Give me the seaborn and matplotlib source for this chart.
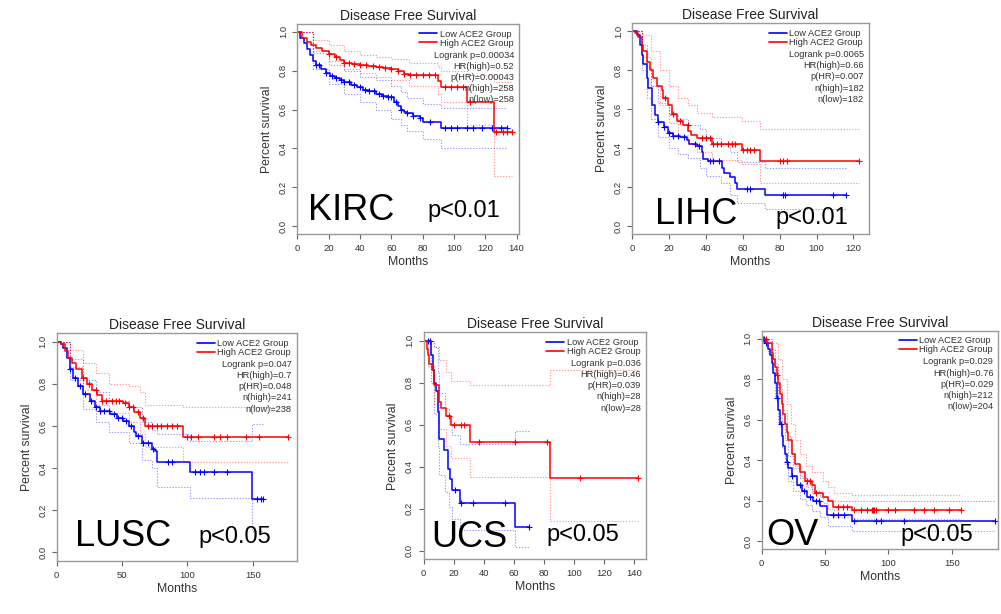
import numpy as np
import pandas as pd
import matplotlib
matplotlib.use("Agg")
import matplotlib.pyplot as plt
from matplotlib.lines import Line2D
import seaborn as sns

# ---------------- data ----------------
CANCERS = ["KIRC", "LIHC", "LUSC", "UCS", "OV"]
PLABELS = ["p<0.01", "p<0.01", "p<0.05", "p<0.05", "p<0.05"]
XTICKS = [[0, 20, 40, 60, 80, 100, 120, 140], [0, 20, 40, 60, 80, 100, 120],
          [0, 50, 100, 150], [0, 20, 40, 60, 80, 100, 120, 140], [0, 50, 100, 150]]
YTICKS = [0.0, 0.2, 0.4, 0.6, 0.8, 1.0]
STATS = [
    ["Logrank p=0.00034", "HR(high)=0.52", "p(HR)=0.00043", "n(high)=258", "n(low)=258"],
    ["Logrank p=0.0065", "HR(high)=0.66", "p(HR)=0.007", "n(high)=182", "n(low)=182"],
    ["Logrank p=0.047", "HR(high)=0.7", "p(HR)=0.048", "n(high)=241", "n(low)=238"],
    ["Logrank p=0.036", "HR(high)=0.46", "p(HR)=0.039", "n(high)=28", "n(low)=28"],
    ["Logrank p=0.029", "HR(high)=0.76", "p(HR)=0.029", "n(high)=212", "n(low)=204"],
]
GROUPS = ["Low ACE2 Group", "High ACE2 Group"]

# KIRC
KIRC_LOW_T = [0, 2, 4, 6, 8, 10, 12, 15, 18, 21, 24, 27, 30, 34, 38, 42, 46, 50, 54, 58, 62, 64, 66, 68, 70, 74, 78, 80, 92, 134]
KIRC_LOW_S = [1.0, 0.97, 0.94, 0.91, 0.88, 0.85, 0.83, 0.81, 0.79, 0.775, 0.76, 0.75, 0.74, 0.725, 0.715, 0.70, 0.695, 0.68, 0.67, 0.665, 0.64, 0.62, 0.60, 0.59, 0.58, 0.565, 0.555, 0.537, 0.507, 0.507]
KIRC_LOW_CENS = [12, 14, 18, 22, 25, 28, 30, 33, 36, 40, 43, 46, 49, 52, 55, 58, 60, 63, 66, 70, 74, 78, 85, 94, 98, 102, 108, 112, 118, 124, 130, 134]
KIRC_LOW_CI_T = [0, 10, 20, 30, 40, 50, 60, 66, 70, 80, 92, 134]
KIRC_LOW_CI_UP = [1.0, 0.89, 0.83, 0.80, 0.77, 0.75, 0.72, 0.69, 0.66, 0.63, 0.61, 0.61]
KIRC_LOW_CI_LO = [1.0, 0.81, 0.73, 0.68, 0.64, 0.60, 0.55, 0.52, 0.49, 0.45, 0.40, 0.40]
KIRC_HIGH_T = [0, 3, 6, 9, 12, 16, 20, 24, 27, 30, 35, 40, 45, 50, 55, 60, 64, 68, 71, 90, 92, 108, 125.5, 137]
KIRC_HIGH_S = [1.0, 0.97, 0.95, 0.93, 0.915, 0.90, 0.885, 0.87, 0.855, 0.84, 0.835, 0.83, 0.825, 0.82, 0.815, 0.81, 0.80, 0.785, 0.777, 0.746, 0.717, 0.64, 0.485, 0.485]
KIRC_HIGH_CENS = [20, 25, 30, 33, 36, 40, 44, 48, 52, 56, 60, 64, 68, 72, 76, 80, 84, 88, 94, 98, 102, 106, 110, 127, 131, 134, 137]
KIRC_HIGH_CI_T = [0, 10, 20, 30, 40, 50, 60, 71, 90, 92, 108, 125.5, 137]
KIRC_HIGH_CI_UP = [1.0, 0.96, 0.93, 0.90, 0.88, 0.87, 0.86, 0.84, 0.82, 0.80, 0.78, 0.74, 0.74]
KIRC_HIGH_CI_LO = [1.0, 0.90, 0.85, 0.81, 0.79, 0.77, 0.75, 0.72, 0.68, 0.64, 0.52, 0.26, 0.26]

# LIHC
LIHC_LOW_T = [0, 2.4, 4.2, 5, 6, 7.8, 8.7, 10.5, 12.3, 14, 17, 19.5, 22, 26, 29.5, 31, 35, 37.6, 38.5, 41, 48.5, 50, 53, 55.7, 56.6, 72, 116]
LIHC_LOW_S = [1.0, 0.98, 0.93, 0.88, 0.83, 0.76, 0.71, 0.62, 0.57, 0.535, 0.51, 0.48, 0.465, 0.457, 0.44, 0.42, 0.41, 0.38, 0.345, 0.333, 0.30, 0.275, 0.25, 0.224, 0.19, 0.159, 0.159]
LIHC_LOW_CENS = [14, 17, 20, 22, 25, 28, 34, 36, 42, 44, 47, 62, 64, 82, 83, 109, 116]
LIHC_LOW_CI_T = [0, 5, 8, 10, 14, 20, 25, 30, 37, 40, 48, 53, 57, 72, 116]
LIHC_LOW_CI_UP = [1.0, 0.93, 0.82, 0.72, 0.63, 0.57, 0.55, 0.52, 0.50, 0.45, 0.42, 0.38, 0.33, 0.30, 0.30]
LIHC_LOW_CI_LO = [1.0, 0.80, 0.66, 0.55, 0.46, 0.40, 0.37, 0.35, 0.30, 0.26, 0.22, 0.16, 0.12, 0.09, 0.09]
LIHC_HIGH_T = [0, 1.4, 3.3, 5, 6, 7.8, 9.6, 11.4, 13.2, 15.9, 16.8, 19.5, 21.4, 24, 27.7, 30.4, 32, 35, 43, 59.4, 69.3, 123]
LIHC_HIGH_S = [1.0, 0.99, 0.97, 0.93, 0.90, 0.84, 0.80, 0.76, 0.72, 0.70, 0.66, 0.62, 0.575, 0.54, 0.52, 0.49, 0.47, 0.45, 0.42, 0.39, 0.333, 0.333]
LIHC_HIGH_CENS = [18, 22, 26, 30, 38, 40, 42, 44, 46, 48, 52, 54, 56, 60, 62, 64, 66, 80, 82, 84, 123]
LIHC_HIGH_CI_T = [0, 5, 10, 15, 20, 25, 30, 35, 43, 59.4, 69.3, 123]
LIHC_HIGH_CI_UP = [1.0, 0.98, 0.90, 0.80, 0.72, 0.66, 0.62, 0.58, 0.56, 0.54, 0.50, 0.50]
LIHC_HIGH_CI_LO = [1.0, 0.87, 0.72, 0.62, 0.53, 0.47, 0.42, 0.38, 0.34, 0.32, 0.22, 0.22]

# LUSC
LUSC_LOW_T = [0, 3, 5, 7.7, 10, 12.8, 16.6, 20.4, 25.6, 29.4, 33, 41, 46, 51, 55, 58.8, 61, 65, 72.8, 75.4, 76.7, 102, 149.5, 158]
LUSC_LOW_S = [1.0, 0.99, 0.97, 0.925, 0.87, 0.83, 0.79, 0.75, 0.72, 0.69, 0.67, 0.655, 0.64, 0.625, 0.60, 0.57, 0.55, 0.52, 0.49, 0.48, 0.427, 0.38, 0.253, 0.253]
LUSC_LOW_CENS = [10, 14, 18, 22, 26, 30, 33, 36, 40, 44, 47, 50, 53, 57, 62, 66, 70, 74, 85, 88, 106, 110, 113, 120, 130, 153, 156, 158]
LUSC_LOW_CI_T = [0, 10, 20, 30, 40, 55, 65, 72.8, 76.7, 102, 149.5, 158]
LUSC_LOW_CI_UP = [1.0, 0.92, 0.82, 0.76, 0.72, 0.69, 0.62, 0.58, 0.56, 0.53, 0.61, 0.61]
LUSC_LOW_CI_LO = [1.0, 0.82, 0.68, 0.62, 0.57, 0.52, 0.44, 0.40, 0.31, 0.26, 0.10, 0.10]
LUSC_HIGH_T = [0, 3, 6.4, 9, 11.5, 15, 19, 23, 27, 30.7, 34.5, 51, 55, 58.8, 64, 67.7, 97, 177]
LUSC_HIGH_S = [1.0, 0.99, 0.957, 0.925, 0.90, 0.87, 0.83, 0.80, 0.77, 0.745, 0.72, 0.71, 0.69, 0.665, 0.64, 0.60, 0.546, 0.546]
LUSC_HIGH_CENS = [20, 25, 30, 35, 38, 42, 45, 48, 52, 55, 58, 62, 66, 70, 73, 77, 80, 84, 88, 92, 100, 103, 108, 120, 125, 130, 145, 155, 177]
LUSC_HIGH_CI_T = [0, 10, 20, 30, 40, 55, 64, 67.7, 97, 177]
LUSC_HIGH_CI_UP = [1.0, 0.96, 0.90, 0.85, 0.80, 0.79, 0.76, 0.70, 0.69, 0.69]
LUSC_HIGH_CI_LO = [1.0, 0.88, 0.77, 0.70, 0.66, 0.62, 0.56, 0.50, 0.43, 0.43]

# UCS
UCS_LOW_T = [0, 5, 6.1, 7.2, 8.3, 9.4, 10.5, 13.7, 16.3, 17.6, 19.2, 24, 60.6, 70]
UCS_LOW_S = [1.0, 0.93, 0.86, 0.80, 0.76, 0.66, 0.53, 0.48, 0.39, 0.34, 0.29, 0.23, 0.115, 0.115]
UCS_LOW_CENS = [3, 4, 21, 25, 33, 54, 70]
UCS_LOW_CI_T = [0, 5, 7, 9.4, 10.5, 14, 17, 19, 24, 60.6, 70]
UCS_LOW_CI_UP = [1.0, 1.0, 0.97, 0.85, 0.75, 0.68, 0.60, 0.55, 0.51, 0.57, 0.57]
UCS_LOW_CI_LO = [1.0, 0.80, 0.65, 0.50, 0.36, 0.28, 0.21, 0.15, 0.10, 0.02, 0.02]
UCS_HIGH_T = [0, 2.2, 3.3, 3.9, 5.7, 7.2, 10, 11.5, 14.8, 18, 31.2, 84, 143]
UCS_HIGH_S = [1.0, 0.96, 0.93, 0.89, 0.86, 0.79, 0.71, 0.68, 0.64, 0.60, 0.52, 0.347, 0.347]
UCS_HIGH_CENS = [17, 20, 25, 27, 37, 61, 82, 104, 143]
UCS_HIGH_CI_T = [0, 3, 7, 10, 14.8, 18, 31.2, 84, 143]
UCS_HIGH_CI_UP = [1.0, 1.0, 0.97, 0.91, 0.85, 0.81, 0.79, 0.86, 0.86]
UCS_HIGH_CI_LO = [1.0, 0.88, 0.70, 0.58, 0.50, 0.44, 0.35, 0.14, 0.14]

# OV
OV_LOW_T = [0, 2.6, 5.3, 6.5, 7.9, 9.2, 10.5, 11.8, 13.2, 14.5, 15.8, 17.1, 18.4, 19.7, 21, 23.7, 27.6, 31.6, 35.5, 40.8, 46, 51.3, 71, 184]
OV_LOW_S = [1.0, 0.98, 0.95, 0.92, 0.88, 0.83, 0.78, 0.71, 0.65, 0.58, 0.52, 0.47, 0.43, 0.39, 0.36, 0.32, 0.28, 0.25, 0.22, 0.20, 0.175, 0.13, 0.10, 0.10]
OV_LOW_CENS = [2, 3, 12, 15, 20, 24, 30, 33, 38, 43, 45, 56, 60, 65, 73, 90, 94, 112, 184]
OV_LOW_CI_T = [0, 5, 8, 10.5, 13, 16, 18.5, 21, 25, 30, 35, 40, 46, 52, 71, 184]
OV_LOW_CI_UP = [1.0, 1.0, 0.95, 0.86, 0.72, 0.59, 0.50, 0.42, 0.36, 0.31, 0.28, 0.25, 0.22, 0.20, 0.20, 0.20]
OV_LOW_CI_LO = [1.0, 0.93, 0.85, 0.72, 0.58, 0.46, 0.38, 0.30, 0.25, 0.21, 0.18, 0.15, 0.12, 0.075, 0.05, 0.05]
OV_HIGH_T = [0, 4, 7.9, 9.2, 10.5, 11.8, 13.2, 14.5, 15.8, 17.1, 18.4, 19.7, 21, 23.7, 26.3, 30.3, 34.2, 39.5, 42, 48.7, 52.6, 56.6, 71, 157]
OV_HIGH_S = [1.0, 0.98, 0.93, 0.90, 0.86, 0.82, 0.78, 0.73, 0.68, 0.63, 0.58, 0.54, 0.50, 0.43, 0.38, 0.34, 0.30, 0.28, 0.24, 0.22, 0.20, 0.17, 0.155, 0.155]
OV_HIGH_CENS = [1, 3, 12, 36, 38, 43, 60, 64, 67, 73, 78, 83, 87, 88, 89, 90, 100, 105, 120, 128, 136, 148, 157]
OV_HIGH_CI_T = [0, 5, 8, 13, 16, 20, 23, 26, 30, 35, 40, 48, 52, 57, 71, 157]
OV_HIGH_CI_UP = [1.0, 1.0, 0.98, 0.90, 0.80, 0.68, 0.58, 0.50, 0.43, 0.37, 0.34, 0.30, 0.27, 0.24, 0.23, 0.23]
OV_HIGH_CI_LO = [1.0, 0.95, 0.88, 0.76, 0.65, 0.52, 0.43, 0.37, 0.32, 0.27, 0.24, 0.19, 0.16, 0.12, 0.11, 0.11]

G = globals()

# ---------------- layout ----------------
W, H = 1001, 614
# axes boxes in pixels: left, top, right, bottom ; x max (months)
BOXES = {
    "KIRC": (297.3, 24, 519, 234, 141.5),
    "LIHC": (632.3, 23.5, 868.7, 234, 128.3),
    "LUSC": (56.7, 333.3, 296.7, 560.7, 183.6),
    "UCS": (423.5, 332.3, 646, 559.3, 148),
    "OV": (761.7, 330.8, 998.3, 549.3, 186.7),
}
# big label positions: axes-fraction x, pixel offset of baseline above bottom of box
NAME_POS = {"KIRC": (0.05, 14), "LIHC": (0.096, 9.5), "LUSC": (0.076, 15),
            "UCS": (0.037, 12), "OV": (0.021, 4.5)}
P_POS = {"KIRC": (0.585, 17), "LIHC": (0.605, 9.5), "LUSC": (0.59, 18),
         "UCS": (0.554, 18), "OV": (0.588, 8)}

BLUE = "#0000FF"
RED = "#FF0000"
TXT = "#333333"

sns.set_theme(style="white")
plt.rcParams["font.family"] = ["Liberation Sans", "DejaVu Sans"]

fig = plt.figure(figsize=(W / 100, H / 100), dpi=100)
fig.patch.set_facecolor("white")


def step_at(t, s, q):
    t = np.asarray(t, float)
    s = np.asarray(s, float)
    idx = np.searchsorted(t, np.asarray(q, float), side="right") - 1
    idx = np.clip(idx, 0, len(s) - 1)
    return s[idx]


for i, c in enumerate(CANCERS):
    l, t, r, b, xmax = BOXES[c]
    ax = fig.add_axes([l / W, 1 - b / H, (r - l) / W, (b - t) / H])
    ax.set_facecolor("white")
    for grp, col in (("LOW", BLUE), ("HIGH", RED)):
        T = G[f"{c}_{grp}_T"]
        S = G[f"{c}_{grp}_S"]
        CT = G[f"{c}_{grp}_CI_T"]
        for key in ("UP", "LO"):
            sns.lineplot(x=CT, y=G[f"{c}_{grp}_CI_{key}"], ax=ax, color=col, alpha=0.4,
                         lw=0.8, linestyle=(0, (1.2, 1.4)), drawstyle="steps-post",
                         estimator=None, sort=False, legend=False)
        sns.lineplot(x=T, y=S, ax=ax, color=col, lw=1.1, drawstyle="steps-post",
                     estimator=None, sort=False, legend=False)
        cens = G[f"{c}_{grp}_CENS"]
        sns.scatterplot(x=cens, y=step_at(T, S, cens), ax=ax, marker="+", color=col,
                        s=22, linewidth=0.8, legend=False)

    ax.set_xlim(0, xmax)
    ax.set_ylim(-0.04, 1.04)
    ax.set_xticks(XTICKS[i])
    ax.set_yticks(YTICKS)
    ax.set_yticklabels([f"{v:.1f}" for v in YTICKS], rotation=90, va="center")
    ax.tick_params(axis="both", direction="out", length=3.8, width=0.8, color="#666666",
                   labelsize=6.8, labelcolor=TXT, bottom=True, left=True)
    ax.tick_params(axis="x", pad=3.5)
    ax.tick_params(axis="y", pad=3)
    for sp in ax.spines.values():
        sp.set_visible(True)
        sp.set_color("#999999")
        sp.set_linewidth(1.0)
    ax.set_xlabel("Months", fontsize=8.8, color=TXT, labelpad=2)
    ax.set_ylabel("Percent survival", fontsize=8.8, color=TXT, labelpad=4)
    ax.set_title("Disease Free Survival", fontsize=10, color="#222222", pad=3)
    ax.grid(False)

    handles = [Line2D([], [], color=BLUE, lw=1.2), Line2D([], [], color=RED, lw=1.2)]
    ax.legend(handles, GROUPS, loc="upper right", frameon=False, fontsize=6.7,
              handlelength=1.95, handletextpad=0.25, labelspacing=0.0,
              borderaxespad=0.3, borderpad=0.3, labelcolor=TXT)
    for k, line in enumerate(STATS[i]):
        ax.annotate(line, xy=(1, 1), xycoords="axes fraction",
                    xytext=(-5, -(31 + 11.2 * k)), textcoords="offset pixels",
                    ha="right", va="center", fontsize=6.7, color=TXT)

    nx, ny = NAME_POS[c]
    ax.annotate(c, xy=(nx, 0), xycoords="axes fraction", xytext=(0, ny),
                textcoords="offset pixels", fontsize=26, color="black",
                ha="left", va="baseline")
    px, py = P_POS[c]
    ax.annotate(PLABELS[i], xy=(px, 0), xycoords="axes fraction", xytext=(0, py),
                textcoords="offset pixels", fontsize=17, color="black",
                ha="left", va="baseline")

fig.savefig("out.png", dpi=100, facecolor="white")
